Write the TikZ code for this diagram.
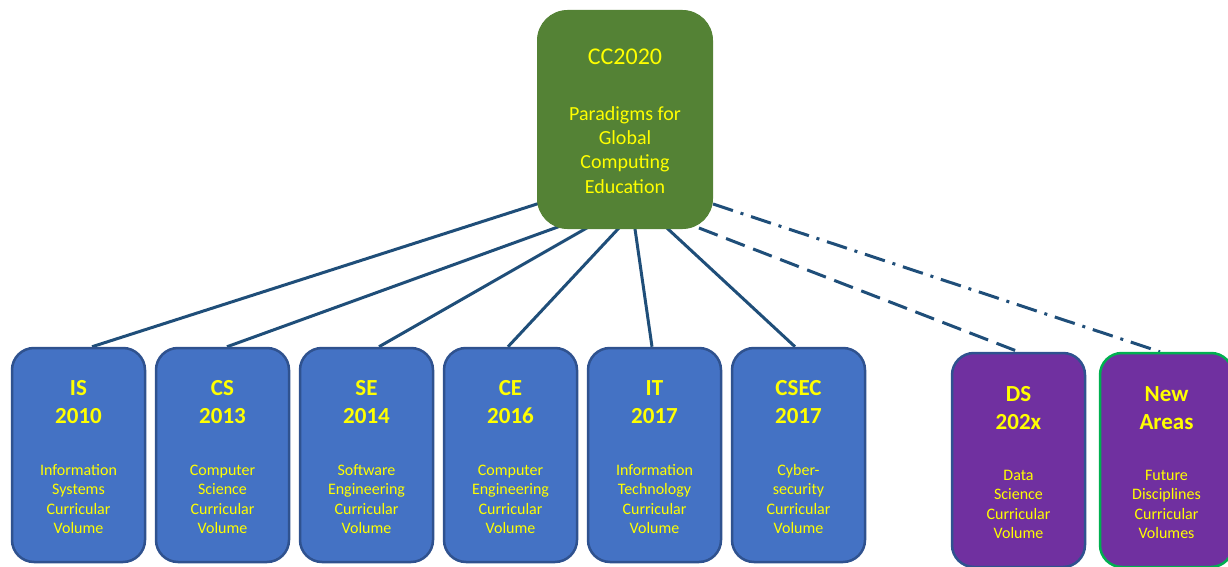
\documentclass[tikz,border=0pt]{standalone}
\usepackage{fontspec}
\setmainfont{Carlito}
\usetikzlibrary{backgrounds,calc}
\definecolor{ccgreen}{HTML}{548235}
\definecolor{boxblue}{HTML}{4472C4}
\definecolor{boxedge}{HTML}{2F528F}
\definecolor{purp}{HTML}{7030A0}
\definecolor{newedge}{HTML}{00B050}
\definecolor{linkcol}{HTML}{1F4E79}
\definecolor{txtyellow}{HTML}{FFFF00}
\begin{document}
\begin{tikzpicture}[x=1pt,y=1pt,
  volbox/.style={draw=boxedge, line width=2.5pt, fill=boxblue, rounded corners=22pt,
    minimum width=133pt, minimum height=214pt, inner sep=0pt},
  futbox/.style={volbox, fill=purp},
  newbox/.style={futbox, draw=newedge},
  topbox/.style={draw=ccgreen, line width=1pt, fill=ccgreen, rounded corners=30pt,
    minimum width=175pt, minimum height=218pt, inner sep=0pt},
  titletxt/.style={text=txtyellow, align=center, inner sep=0pt,
    font=\fontsize{23}{28.5}\selectfont\bfseries},
  desctxt/.style={text=txtyellow, align=center, inner sep=0pt,
    font=\fontsize{16}{19.5}\selectfont},
  cctitle/.style={text=txtyellow, align=center, inner sep=0pt,
    font=\fontsize{24}{29}\selectfont},
  ccdesc/.style={text=txtyellow, align=center, inner sep=0pt,
    font=\fontsize{20}{24.3}\selectfont},
  link/.style={draw=linkcol, line width=3pt},
  dashlink/.style={link, dash pattern=on 20pt off 9pt},
  dotlink/.style={link, dash pattern=on 21pt off 8pt on 3pt off 8pt},
]
\clip (0,0) rectangle (1228,566);

% top node
\node[topbox] (cc) at (625,446.5) {};
\node[cctitle, anchor=base] (cc-t) at ([yshift=-55]cc.north) {CC2020};
\node[ccdesc, anchor=base] (cc-d) at ([yshift=-183]cc.north) {Paradigms for\\Global\\Computing\\Education};

% volume boxes
\node[volbox] (is)   at (78.5,111) {};
\node[volbox] (cs)   at (222.5,111) {};
\node[volbox] (se)   at (366.5,111) {};
\node[volbox] (ce)   at (510.5,111) {};
\node[volbox] (it)   at (654.5,111) {};
\node[volbox] (csec) at (798.5,111) {};
\node[futbox] (ds)   at (1018.5,106) {};
\node[newbox] (new)  at (1166.5,106) {};

\node[titletxt, anchor=base] (is-t) at ([yshift=-77]is.north) {IS\\2010};
\node[desctxt, anchor=base] (is-d) at ([yshift=-187]is.north) {Information\\Systems\\Curricular\\Volume};
\node[titletxt, anchor=base] (cs-t) at ([yshift=-77]cs.north) {CS\\2013};
\node[desctxt, anchor=base] (cs-d) at ([yshift=-187]cs.north) {Computer\\Science\\Curricular\\Volume};
\node[titletxt, anchor=base] (se-t) at ([yshift=-77]se.north) {SE\\2014};
\node[desctxt, anchor=base] (se-d) at ([yshift=-187]se.north) {Software\\Engineering\\Curricular\\Volume};
\node[titletxt, anchor=base] (ce-t) at ([yshift=-77]ce.north) {CE\\2016};
\node[desctxt, anchor=base] (ce-d) at ([yshift=-187]ce.north) {Computer\\Engineering\\Curricular\\Volume};
\node[titletxt, anchor=base] (it-t) at ([yshift=-77]it.north) {IT\\2017};
\node[desctxt, anchor=base] (it-d) at ([yshift=-187]it.north) {Information\\Technology\\Curricular\\Volume};
\node[titletxt, anchor=base] (csec-t) at ([yshift=-77]csec.north) {CSEC\\2017};
\node[desctxt, anchor=base] (csec-d) at ([yshift=-187]csec.north) {Cyber-\\security\\Curricular\\Volume};
\node[titletxt, anchor=base] (ds-t) at ([yshift=-78]ds.north) {DS\\202x};
\node[desctxt, anchor=base] (ds-d) at ([yshift=-187]ds.north) {Data\\Science\\Curricular\\Volume};
\node[titletxt, anchor=base] (new-t) at ([yshift=-78]new.north) {New\\Areas};
\node[desctxt, anchor=base] (new-d) at ([yshift=-187]new.north) {Future\\Disciplines\\Curricular\\Volumes};

% connectors
\begin{scope}[on background layer]
  \coordinate (s-is) at ([yshift=25]cc.south west);
  \coordinate (s-cs) at ([xshift=18,yshift=1]cc.south west);
  \coordinate (s-se) at ([xshift=48]cc.south west);
  \coordinate (s-ce) at ([xshift=81]cc.south west);
  \coordinate (s-it) at ([xshift=98]cc.south west);
  \coordinate (s-csec) at ([xshift=131]cc.south west);
  \coordinate (s-ds) at ([xshift=-14,yshift=1]cc.south east);
  \coordinate (s-new) at ([yshift=25]cc.south east);
  \coordinate (e-is) at ([xshift=13.5]is.north);
  \coordinate (e-cs) at ([xshift=4.5]cs.north);
  \coordinate (e-se) at ([xshift=12.5]se.north);
  \coordinate (e-ce) at ([xshift=-2.5]ce.north);
  \coordinate (e-it) at ([xshift=-2.5]it.north);
  \coordinate (e-csec) at ([xshift=-3.5]csec.north);
  \coordinate (e-ds) at (ds.north);
  \coordinate (e-new) at ([xshift=-6.5]new.north);
  \draw[link] ($(s-is)!-8pt!(e-is)$) -- (e-is);
  \draw[link] ($(s-cs)!-8pt!(e-cs)$) -- (e-cs);
  \draw[link] ($(s-se)!-8pt!(e-se)$) -- (e-se);
  \draw[link] ($(s-ce)!-8pt!(e-ce)$) -- (e-ce);
  \draw[link] ($(s-it)!-8pt!(e-it)$) -- (e-it);
  \draw[link] ($(s-csec)!-8pt!(e-csec)$) -- (e-csec);
  \draw[dashlink] (s-ds) -- (e-ds);
  \draw[dotlink] (s-new) -- (e-new);
\end{scope}
\end{tikzpicture}
\end{document}
